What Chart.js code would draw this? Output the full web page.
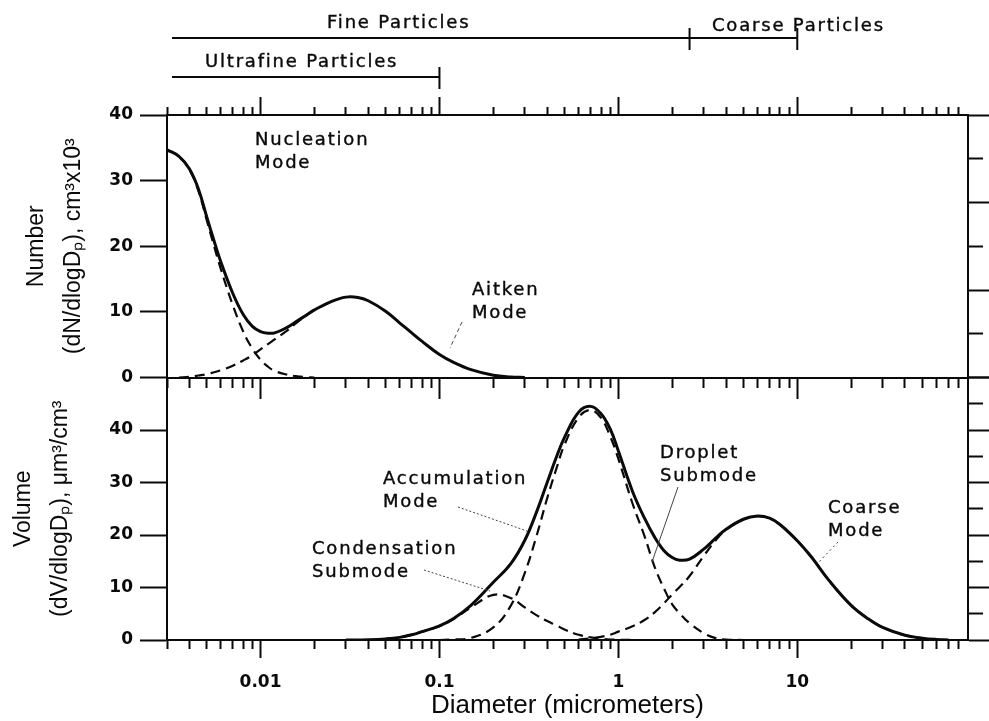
<!DOCTYPE html>
<html lang="en">
<head>
<meta charset="utf-8">
<title>Aerosol number and volume size distribution</title>
<script src="https://cdn.jsdelivr.net/npm/chart.js@4.4.1/dist/chart.umd.min.js"></script>
<style>
  html, body { margin: 0; padding: 0; background: #fff; }
  canvas { display: block; }
</style>
</head>
<body>
<canvas id="sizeChart" width="989" height="721"></canvas>
<script>
// Upper panel: number distribution, dN/dlogDp (cm^-3 x 10^3)
const numberDiam = [0.003, 0.0035, 0.004, 0.0045, 0.005, 0.0055, 0.006, 0.007, 0.008, 0.009,
    0.01, 0.011, 0.012, 0.014, 0.016, 0.018, 0.02, 0.025, 0.03, 0.035,
    0.04, 0.05, 0.06, 0.07, 0.08, 0.1, 0.12, 0.15, 0.2, 0.25, 0.3];
const numberTotal = [34.7, 33.7, 31.8, 28.7, 24.5, 20.8, 17.6, 12.8, 9.6, 7.8,
    7.0, 6.75, 6.8, 7.6, 8.6, 9.5, 10.3, 11.6, 12.25, 12.2,
    11.7, 10.1, 8.3, 6.8, 5.5, 3.5, 2.3, 1.2, 0.35, 0.08, 0];
const nucleationMode = [34.7, 33.7, 31.7, 28.4, 24.0, 20.0, 16.5, 11.0, 7.0, 4.4,
    2.7, 1.65, 1.0, 0.45, 0.18, 0.06, 0, null, null, null,
    null, null, null, null, null, null, null, null, null, null, null];
const aitkenMode = [null, 0, 0.1, 0.3, 0.5, 0.8, 1.1, 1.8, 2.6, 3.4,
    4.3, 5.1, 5.8, 7.1, 8.4, 9.45, 10.3, 11.6, null, null,
    null, null, null, null, null, null, null, null, null, null, null];

// Lower panel: volume distribution, dV/dlogDp (um^3/cm^3)
const volumeDiam = [0.03, 0.04, 0.05, 0.06, 0.07, 0.08, 0.1, 0.12, 0.15, 0.2,
    0.25, 0.3, 0.35, 0.4, 0.45, 0.5, 0.6, 0.7, 0.8, 0.9,
    1.0, 1.2, 1.4, 1.6, 1.8, 2.0, 2.2, 2.5, 3.0, 3.5,
    4, 5, 6, 7, 8, 10, 12, 15, 20, 25,
    30, 40, 50, 60, 70];
const volumeTotal = [0, 0.05, 0.2, 0.5, 1.0, 1.6, 2.7, 4.1, 6.6, 11.0,
    14.5, 19.0, 24.5, 30.0, 34.8, 38.6, 43.4, 44.5, 43.1, 40.2,
    36.0, 28.3, 23.2, 19.5, 17.0, 15.7, 15.2, 15.4, 17.3, 19.4,
    21.1, 23.0, 23.6, 23.2, 22.0, 18.9, 15.8, 11.4, 6.6, 4.0,
    2.4, 0.9, 0.35, 0.1, 0];
const condensationSubmode = [null, null, 0.2, 0.5, 1.0, 1.6, 2.6, 4.0, 6.2, 8.6,
    8.0, 6.2, 4.7, 3.6, 2.8, 2.0, 1.0, 0.5, 0.25, 0.1,
    0.05, 0, null, null, null, null, null, null, null, null,
    null, null, null, null, null, null, null, null, null, null,
    null, null, null, null, null];
const dropletSubmode = [null, null, null, null, null, null, 0, 0.1, 0.4, 2.4,
    6.5, 12.8, 20.0, 27.0, 32.6, 37.2, 42.4, 43.8, 42.3, 38.8,
    34.5, 26.0, 19.8, 13.8, 9.8, 6.8, 5.1, 3.2, 1.3, 0.35,
    0.1, 0, null, null, null, null, null, null, null, null,
    null, null, null, null, null];
const coarseMode = [null, null, null, null, null, null, null, null, null, null,
    null, null, null, null, null, null, 0.1, 0.3, 0.6, 1.0,
    1.6, 2.6, 3.8, 5.3, 7.0, 8.7, 10.1, 12.2, 16.0, 19.0,
    21.0, 23.0, 23.6, 23.2, 22.0, 18.9, 15.8, 11.4, 6.6, 4.0,
    2.4, 0.9, 0.35, 0.1, 0];

// Diameter axis
const diamMin = 0.003;
const diamMax = 90;
const diamDecades = [0.001, 0.01, 0.1, 1, 10];
const diamMultipliers = [1, 2, 3, 4, 5, 6, 7, 8, 9];
const xLabelValues = [0.01, 0.1, 1, 10];
const xLabels = ['0.01', '0.1', '1', '10'];

// Size classes above the plot
const sizeClasses = ['Fine Particles', 'Coarse Particles', 'Ultrafine Particles'];
const sizeClassFrom = [0.0032, 2.5, 0.0032];
const sizeClassTo = [2.5, 10, 0.1];

const xTickValues = [];
diamDecades.forEach(dec => diamMultipliers.forEach(m => {
    const v = +(dec * m).toPrecision(6);
    if (v >= diamMin && v < diamMax) xTickValues.push(v);
}));

const INK = '#0a0a0a';
const tickFont = { family: 'DejaVu Sans', size: 17, weight: 'bold' };
const titleFont = { family: "'Liberation Sans', sans-serif", size: 23, lineHeight: 1.6 };

Chart.defaults.color = INK;
Chart.defaults.font.family = "'DejaVu Sans', sans-serif";

function series(diams, values) {
    return diams.map((d, i) => ({ x: d, y: values[i] })).filter(p => p.y !== null);
}

function setDiameterTicks(scale) {
    scale.ticks = xTickValues.map(v => ({ value: v, major: xLabelValues.includes(v) }));
}

function isMajorX(c) {
    return c.tick && c.tick.major;
}

function solidLine(data, axis) {
    return {
        data: data, yAxisID: axis, xAxisID: 'x',
        borderColor: INK, borderWidth: 3, pointRadius: 0,
        tension: 0.4, fill: false
    };
}

function dashedLine(data, axis) {
    return {
        data: data, yAxisID: axis, xAxisID: 'x',
        borderColor: INK, borderWidth: 2.2, borderDash: [10, 6], pointRadius: 0,
        tension: 0.4, fill: false
    };
}

// Text labels and leader lines (canvas pixels)
const modeLabels = [
    { lines: ['Nucleation', 'Mode'], x: 255, y: 145 },
    { lines: ['Aitken', 'Mode'], x: 472, y: 295 },
    { lines: ['Accumulation', 'Mode'], x: 383, y: 484 },
    { lines: ['Condensation', 'Submode'], x: 312, y: 554 },
    { lines: ['Droplet', 'Submode'], x: 660, y: 458 },
    { lines: ['Coarse', 'Mode'], x: 828, y: 513 }
];
const leaders = [
    { from: [462, 322], to: [450, 348], dash: [4, 3] },
    { from: [458, 507], to: [527, 531], dash: [2, 2] },
    { from: [424, 570], to: [490, 591], dash: [2, 2] },
    { from: [678, 487], to: [652, 562], dash: [] },
    { from: [838, 542], to: [818, 563], dash: [2, 3] }
];
const classRowY = [38, 38, 77];
const classTextX = [327, 712, 205];
const classTextY = [28, 31, 67];

function inkText(ctx, text, x, y) {
    ctx.fillText(text, x, y);
    ctx.strokeText(text, x, y);
}

const annotationPlugin = {
    id: 'annotations',
    afterDraw(chart) {
        const ctx = chart.ctx;
        const x = chart.scales.x;
        ctx.save();
        ctx.fillStyle = INK;
        ctx.strokeStyle = INK;
        ctx.font = '18px "DejaVu Sans"';
        ctx.letterSpacing = '1.8px';
        ctx.textBaseline = 'alphabetic';
        ctx.textAlign = 'left';
        ctx.lineWidth = 0.4;

        modeLabels.forEach(l => {
            l.lines.forEach((t, i) => inkText(ctx, t, l.x, l.y + i * 23));
        });

        // size class brackets
        sizeClasses.forEach((name, i) => {
            const x1 = x.getPixelForValue(sizeClassFrom[i]);
            const x2 = x.getPixelForValue(sizeClassTo[i]);
            const y = classRowY[i];
            ctx.lineWidth = 2;
            ctx.setLineDash([]);
            ctx.beginPath();
            ctx.moveTo(x1, y);
            ctx.lineTo(x2, y);
            ctx.moveTo(x2, y - 10);
            ctx.lineTo(x2, y + 12);
            ctx.stroke();
            ctx.lineWidth = 0.4;
            inkText(ctx, name, classTextX[i], classTextY[i]);
        });

        ctx.lineWidth = 1;
        ctx.strokeStyle = '#444';
        leaders.forEach(p => {
            ctx.setLineDash(p.dash);
            ctx.beginPath();
            ctx.moveTo(p.from[0], p.from[1]);
            ctx.lineTo(p.to[0], p.to[1]);
            ctx.stroke();
        });
        ctx.restore();
    }
};

const ctx = document.getElementById('sizeChart').getContext('2d');
const sizeChart = new Chart(ctx, {
    type: 'line',
    data: {
        datasets: [
            solidLine(series(numberDiam, numberTotal), 'yN'),
            solidLine(series(volumeDiam, volumeTotal), 'yV'),
            dashedLine(series(numberDiam, nucleationMode), 'yN'),
            dashedLine(series(numberDiam, aitkenMode), 'yN'),
            dashedLine(series(volumeDiam, condensationSubmode), 'yV'),
            dashedLine(series(volumeDiam, dropletSubmode), 'yV'),
            dashedLine(series(volumeDiam, coarseMode), 'yV')
        ]
    },
    options: {
        responsive: false,
        animation: false,
        devicePixelRatio: 1,
        layout: { padding: 0 },
        plugins: {
            legend: { display: false },
            tooltip: { enabled: false }
        },
        scales: {
            x: {
                type: 'logarithmic', axis: 'x', position: 'bottom',
                min: diamMin, max: diamMax,
                afterBuildTicks: setDiameterTicks,
                afterFit: s => { s.height = 81; },
                ticks: {
                    autoSkip: false, maxRotation: 0, padding: 14, font: tickFont,
                    callback: v => {
                        const i = xLabelValues.indexOf(v);
                        return i >= 0 ? xLabels[i] : '';
                    }
                },
                grid: {
                    drawOnChartArea: false, tickLength: 18, tickWidth: 2, tickColor: INK,
                    tickBorderDash: c => isMajorX(c) ? [] : [8, 200]
                },
                border: { color: INK, width: 2 },
                title: {
                    display: true, text: 'Diameter (micrometers)', color: INK,
                    font: { family: 'Liberation Sans', size: 26 }, padding: 0
                }
            },
            xTop: {
                type: 'logarithmic', axis: 'x', position: 'top',
                min: diamMin, max: diamMax,
                afterBuildTicks: setDiameterTicks,
                afterFit: s => { s.height = 115; },
                ticks: { display: false },
                grid: {
                    drawOnChartArea: false, tickLength: 18, tickWidth: 2, tickColor: INK,
                    tickBorderDash: c => isMajorX(c) ? [] : [0, 10, 8, 200]
                },
                border: { color: INK, width: 2 }
            },
            xMid: {
                type: 'logarithmic', axis: 'x', position: { yN: 0 },
                min: diamMin, max: diamMax,
                afterBuildTicks: setDiameterTicks,
                ticks: { display: false },
                grid: {
                    drawOnChartArea: false, tickLength: 20, tickWidth: 2, tickColor: INK,
                    tickBorderDash: c => isMajorX(c) ? [] : [9, 200]
                },
                border: { color: INK, width: 2 }
            },
            // left stack is laid out in reverse order: the volume axis goes at the bottom
            yV: {
                type: 'linear', position: 'left', stack: 'left', stackWeight: 1,
                min: 0, max: 50,
                afterFit: s => { s.width = 167; },
                afterBuildTicks: s => { s.ticks = s.ticks.filter(t => t.value < 50); },
                ticks: {
                    stepSize: 5, padding: 7, font: tickFont,
                    callback: v => v % 10 === 0 ? v : ''
                },
                grid: {
                    drawOnChartArea: false, tickLength: 27, tickWidth: 2, tickColor: INK,
                    tickBorderDash: c => c.tick && c.tick.value % 10 === 0 ? [] : [0, 13, 14, 200]
                },
                border: { color: INK, width: 2 },
                title: {
                    display: true, color: INK,
                    text: ['Volume', '(dV/dlogDₚ), μm³/cm³'],
                    font: titleFont,
                    padding: { top: 5, bottom: 0 }
                }
            },
            yN: {
                type: 'linear', position: 'left', stack: 'left', stackWeight: 1,
                min: 0, max: 40,
                afterFit: s => { s.width = 167; },
                ticks: {
                    stepSize: 5, padding: 7, font: tickFont,
                    callback: v => v % 10 === 0 ? v : ''
                },
                grid: {
                    drawOnChartArea: false, tickLength: 27, tickWidth: 2, tickColor: INK,
                    tickBorderDash: c => c.tick && c.tick.value % 10 === 0 ? [] : [0, 13, 14, 200]
                },
                border: { color: INK, width: 2 },
                title: {
                    display: true, color: INK,
                    text: ['Number', '(dN/dlogDₚ), cm³x10³'],
                    font: titleFont,
                    padding: { top: 18, bottom: 0 }
                }
            },
            yNr: {
                type: 'linear', position: 'right', stack: 'right', stackWeight: 1,
                min: 0, max: 3,
                afterFit: s => { s.width = 21; },
                ticks: { display: false, stepSize: 0.5 },
                grid: {
                    drawOnChartArea: false, tickLength: 21, tickWidth: 2, tickColor: INK,
                    tickBorderDash: c => c.tick && c.tick.value % 1 === 0 ? [] : [14, 200]
                },
                border: { color: INK, width: 2 }
            },
            yVr: {
                type: 'linear', position: 'right', stack: 'right', stackWeight: 1,
                min: 0, max: 50,
                afterFit: s => { s.width = 21; },
                ticks: { display: false, stepSize: 5 },
                grid: {
                    drawOnChartArea: false, tickLength: 21, tickWidth: 2, tickColor: INK,
                    tickBorderDash: c => c.tick && c.tick.value % 10 === 0 ? [] : [14, 200]
                },
                border: { color: INK, width: 2 }
            }
        }
    },
    plugins: [annotationPlugin]
});
</script>
</body>
</html>
